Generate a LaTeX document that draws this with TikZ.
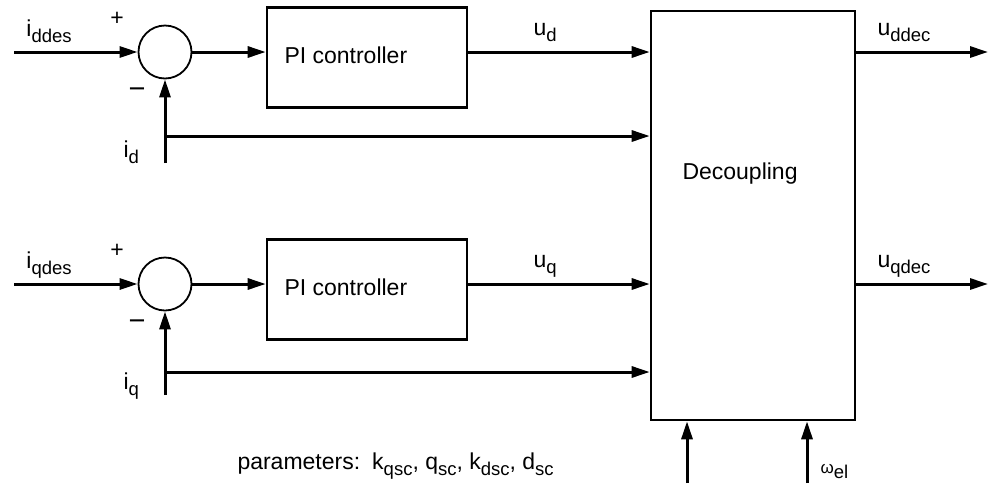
\documentclass[tikz,border=0pt]{standalone}
\usepackage{fontspec}
\setmainfont{Liberation Sans}
\usetikzlibrary{arrows.meta, positioning}

\newcommand{\subfont}{\fontsize{18.5}{20}\selectfont}
\newcommand{\lbl}[2]{#1\raisebox{-6pt}{\subfont #2}}

\begin{document}
\begin{tikzpicture}[x=1pt, y=-1pt, line width=3pt,
    >={Triangle[length=18pt, width=11pt]},
    sumnode/.style={circle, draw, line width=1.8pt, minimum size=53pt, inner sep=0pt},
    block/.style={draw, line width=2.6pt, inner sep=0pt},
    txt/.style={font=\fontsize{23}{27}\selectfont, inner sep=0pt, anchor=base west}]
    \useasboundingbox (0,0) rectangle (989,483);

    % decoupling block
    \node[block, minimum width=204pt, minimum height=409pt] (dec) at (753,215.5) {};
    \node[txt] (dectxt) at (681,179) {Decoupling};

    % d and q current loops
    \foreach \r/\y/\b/\s in {1/52/136/d, 2/284/372/q} {
      \node[sumnode] (sum\r) at (165,\y) {};
      \node[block, minimum width=200pt, minimum height=100pt] (pi\r) at (367,\y+5.5) {};
      \node[txt] (pitxt\r) at (283,\y+11) {PI controller};
      \coordinate (in\r) at (14,\y);
      \coordinate (fb\r) at (165,\y+111);
      \coordinate (br\r) at (165,\b);
      \coordinate (out\r) at (988,\y);
      \draw[->] (in\r) -- (sum\r.west);
      \draw[->] (sum\r.east) -- (sum\r.east -| pi\r.west);
      \draw[->] (sum\r -| pi\r.east) -- (sum\r -| dec.west);
      \draw[->] (fb\r) -- (sum\r.south);
      \draw[->] (br\r) -- (br\r -| dec.west);
      \draw[->] (sum\r -| dec.east) -- (out\r);
      \node[txt, anchor=center] (plus\r) at (117,\y-33) {+};
      \node[txt, anchor=center, font=\fontsize{29}{30}\selectfont] (minus\r) at (137,\y+41) {−};
      \node[txt] (ides\r) at (25,\y-16) {\lbl{i}{\s des}};
      \node[txt] (imeas\r) at (122,\y+105) {\lbl{i}{\s}};
      \node[txt] (u\r) at (532,\y-17) {\lbl{u}{\s}};
      \node[txt] (udec\r) at (876,\y-17) {\lbl{u}{\s dec}};
    }

    % inputs from below
    \coordinate (bot1) at (687,483);
    \coordinate (bot2) at (807,483);
    \draw[->] (bot1) -- (bot1 |- dec.south);
    \draw[->] (bot2) -- (bot2 |- dec.south);
    \node[txt] (omega) at (819,473) {{\fontsize{17}{20}\selectfont ω}\raisebox{-5pt}{\subfont el}};
    \node[txt] (params) at (236,469) {parameters:\hspace{12pt}\lbl{k}{qsc}, \lbl{q}{sc}, \lbl{k}{dsc}, \lbl{d}{sc}};
\end{tikzpicture}
\end{document}
